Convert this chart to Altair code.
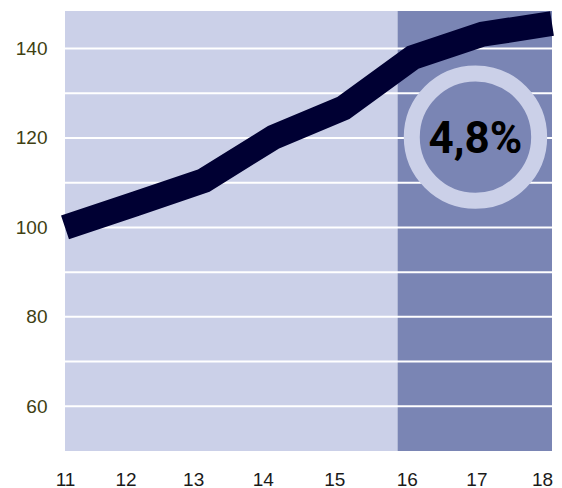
import altair as alt
import pandas as pd

# Data
years = [11, 12, 13, 14, 15, 16, 17, 18]
values = [100, 105.2, 110.5, 120.2, 126.7, 138.0, 143.2, 145.6]
y_ticks = [60, 80, 100, 120, 140]
grid_vals = [60, 70, 80, 90, 100, 110, 120, 130, 140]
band_start = [11, 15.78]
band_end = [15.78, 18]
band_color = ["#cbd0e8", "#7a85b4"]
y_min, y_max = 50, 148.4
badge_x = [16.9]
badge_y = [120.2]
badge_text = ["4,8%"]

line_df = pd.DataFrame({"year": years, "value": values})
band_df = pd.DataFrame({"x": band_start, "x2": band_end, "color": band_color,
                        "y": [y_min] * 2, "y2": [y_max] * 2})
grid_df = pd.DataFrame({"g": grid_vals})
badge_df = pd.DataFrame({"x": badge_x, "y": badge_y, "t": badge_text})

xs = alt.Scale(domain=[11, 18], nice=False, zero=False)
ys = alt.Scale(domain=[y_min, y_max], nice=False, zero=False)

x_label_offset = {
    "condition": [
        {"test": "datum.value == 11", "value": 0},
        {"test": "datum.value == 13 || datum.value == 14", "value": -11},
        {"test": "datum.value == 18", "value": -10},
        {"test": "datum.value >= 16", "value": -6},
    ],
    "value": -9,
}

bands = alt.Chart(band_df).mark_rect().encode(
    x=alt.X("x:Q", scale=xs, axis=alt.Axis(
        values=years, title=None, grid=False, domain=False, ticks=False,
        labelFontSize=19, labelColor="#1a1a1a", labelPadding=19,
        labelFont="Liberation Sans", labelFlush=False, format="d",
        labelOffset=x_label_offset)),
    x2="x2:Q",
    y=alt.Y("y:Q", scale=ys, axis=alt.Axis(
        values=y_ticks, title=None, grid=False, domain=False, ticks=False,
        labelFontSize=19, labelColor="#404012", labelPadding=18,
        labelFont="Liberation Sans")),
    y2="y2:Q",
    color=alt.Color("color:N", scale=None),
)

grid = alt.Chart(grid_df).mark_rule(color="white", strokeWidth=2).encode(
    y=alt.Y("g:Q", scale=ys)
)

line = alt.Chart(line_df).mark_line(
    color="#000033", strokeWidth=25, strokeCap="butt", strokeJoin="miter"
).encode(
    x=alt.X("year:Q", scale=xs),
    y=alt.Y("value:Q", scale=ys),
)

circle = alt.Chart(badge_df).mark_point(
    shape="circle", filled=True, fill="#7a85b4", fillOpacity=1,
    stroke="#cbd0e8", strokeWidth=16, strokeOpacity=1, size=16230, opacity=1
).encode(
    x=alt.X("x:Q", scale=xs),
    y=alt.Y("y:Q", scale=ys),
)

label = alt.Chart(badge_df).mark_text(
    font="Roboto", fontWeight="bold", fontSize=44,
    color="black", baseline="middle", align="center", dy=3
).encode(
    x=alt.X("x:Q", scale=xs),
    y=alt.Y("y:Q", scale=ys),
    text="t:N",
)

chart = alt.layer(bands, grid, line, circle, label).properties(
    width=487, height=440,
    autosize=alt.AutoSizeParams(type="none"),
    padding={"left": 57, "top": 3, "right": 2, "bottom": 37},
).configure_view(stroke=None)

chart.save("out.html", embed_options={"renderer": "svg", "actions": False})
